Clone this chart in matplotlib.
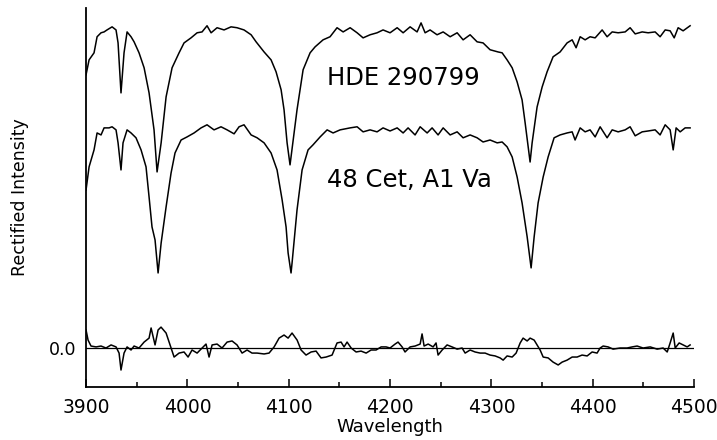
import numpy as np
import matplotlib
matplotlib.use('Agg')
import matplotlib.pyplot as plt
from matplotlib.ticker import MultipleLocator

# HDE 290799, rectified intensity (plotted with an offset)
hde_wave = [3900.0, 3903.0, 3907.9, 3910.9, 3914.8, 3917.8, 3920.7, 3925.7, 3929.6, 3931.6,
            3934.5, 3937.5, 3940.5, 3944.4, 3947.4, 3952.3, 3957.3, 3962.2, 3967.1, 3970.1,
            3974.1, 3979.0, 3984.9, 3991.8, 3996.7, 4003.6, 4009.6, 4014.5, 4019.4, 4023.4,
            4029.3, 4036.2, 4043.1, 4049.0, 4055.9, 4062.9, 4067.8, 4075.7, 4082.6, 4087.5,
            4092.5, 4095.4, 4098.4, 4101.3, 4108.2, 4114.2, 4121.1, 4126.0, 4133.9, 4140.8,
            4147.7, 4153.7, 4160.6, 4167.5, 4173.4, 4180.3, 4187.2, 4193.1, 4200.0, 4207.0,
            4212.9, 4219.8, 4226.7, 4230.6, 4234.6, 4239.5, 4246.4, 4252.4, 4259.3, 4266.2,
            4272.1, 4279.0, 4285.9, 4291.8, 4298.7, 4306.6, 4310.6, 4315.5, 4320.5, 4325.4,
            4330.3, 4333.3, 4336.3, 4338.2, 4340.2, 4345.1, 4350.1, 4355.0, 4360.9, 4367.8,
            4374.7, 4379.7, 4383.6, 4387.6, 4392.5, 4397.4, 4402.4, 4409.3, 4414.2, 4419.2,
            4425.1, 4432.0, 4436.9, 4441.9, 4448.8, 4454.7, 4461.6, 4466.5, 4471.5, 4476.4,
            4480.4, 4484.3, 4489.2, 4496.1]
hde_flux = [0.791, 0.859, 0.891, 0.964, 0.982, 0.986, 0.995, 1.009, 0.995, 0.936,
            0.709, 0.891, 0.986, 0.964, 0.941, 0.891, 0.823, 0.709, 0.541, 0.350,
            0.482, 0.691, 0.823, 0.891, 0.936, 0.959, 0.982, 0.986, 1.014, 0.982,
            1.005, 0.995, 1.009, 1.005, 0.995, 0.973, 0.941, 0.895, 0.859, 0.805,
            0.723, 0.632, 0.482, 0.382, 0.632, 0.814, 0.891, 0.918, 0.950, 0.964,
            1.005, 0.986, 1.005, 0.982, 0.959, 0.973, 0.982, 0.995, 0.982, 1.005,
            0.982, 1.009, 0.986, 1.027, 0.982, 0.995, 0.973, 0.986, 0.964, 0.982,
            0.950, 0.973, 0.941, 0.936, 0.905, 0.895, 0.891, 0.859, 0.823, 0.759,
            0.677, 0.573, 0.464, 0.395, 0.482, 0.645, 0.736, 0.805, 0.873, 0.895,
            0.936, 0.950, 0.914, 0.964, 0.950, 0.964, 0.959, 0.995, 0.964, 0.986,
            0.982, 0.986, 1.005, 0.977, 0.986, 0.982, 0.986, 0.964, 0.995, 0.991,
            0.959, 1.005, 0.991, 1.014]
hde_offset = 0.45

# 48 Cet, A1 Va standard
cet_wave = [3900.0, 3903.0, 3907.9, 3910.9, 3914.8, 3917.8, 3922.7, 3925.7, 3929.6, 3931.6,
            3934.5, 3936.5, 3940.5, 3944.4, 3949.3, 3954.3, 3959.2, 3962.2, 3965.1, 3968.1,
            3971.1, 3974.1, 3979.0, 3983.9, 3987.8, 3993.8, 3999.7, 4006.6, 4013.5, 4019.4,
            4026.3, 4033.2, 4039.2, 4046.1, 4051.0, 4055.9, 4062.9, 4068.8, 4075.7, 4082.6,
            4088.5, 4093.5, 4097.4, 4099.4, 4102.3, 4103.3, 4108.2, 4113.2, 4119.1, 4124.0,
            4131.0, 4137.9, 4143.8, 4150.7, 4160.6, 4167.5, 4173.4, 4180.3, 4187.2, 4193.1,
            4200.0, 4207.0, 4212.9, 4217.8, 4224.7, 4229.7, 4236.6, 4241.5, 4247.4, 4252.4,
            4259.3, 4266.2, 4272.1, 4279.0, 4285.9, 4291.8, 4298.7, 4305.7, 4310.6, 4315.5,
            4320.5, 4325.4, 4330.3, 4335.3, 4339.2, 4342.2, 4346.1, 4351.1, 4356.0, 4361.9,
            4367.8, 4374.7, 4379.7, 4382.6, 4387.6, 4392.5, 4397.4, 4402.4, 4407.3, 4414.2,
            4419.2, 4425.1, 4432.0, 4436.9, 4441.9, 4448.8, 4454.7, 4461.6, 4466.5, 4471.5,
            4476.4, 4479.4, 4482.3, 4486.3, 4491.2, 4496.1]
cet_flux = [0.718, 0.823, 0.900, 0.977, 0.968, 1.000, 1.000, 1.005, 0.991, 0.932,
            0.809, 0.932, 0.991, 0.977, 0.955, 0.900, 0.823, 0.686, 0.550, 0.491,
            0.341, 0.477, 0.641, 0.795, 0.886, 0.945, 0.959, 0.977, 1.000, 1.014,
            0.991, 1.005, 0.991, 0.973, 1.005, 1.014, 0.968, 0.955, 0.932, 0.886,
            0.809, 0.673, 0.550, 0.432, 0.341, 0.386, 0.627, 0.809, 0.900, 0.923,
            0.959, 0.991, 0.977, 0.991, 1.000, 1.005, 0.982, 0.991, 0.982, 1.000,
            0.986, 1.000, 0.977, 1.000, 0.968, 1.005, 0.977, 1.000, 0.968, 1.000,
            0.968, 0.982, 0.955, 0.968, 0.955, 0.936, 0.945, 0.932, 0.936, 0.914,
            0.868, 0.777, 0.659, 0.505, 0.364, 0.505, 0.659, 0.777, 0.868, 0.955,
            0.968, 0.977, 0.982, 0.945, 1.000, 0.982, 0.991, 0.959, 1.005, 0.955,
            0.991, 0.982, 0.991, 1.005, 0.964, 0.982, 0.986, 0.991, 0.968, 1.014,
            0.991, 0.900, 1.000, 0.982, 1.000, 1.000]

# difference spectrum HDE 290799 - 48 Cet
diff_wave = [3900.0, 3902.0, 3904.9, 3909.9, 3914.8, 3919.7, 3924.7, 3929.6, 3932.6, 3934.5,
             3937.5, 3940.5, 3944.4, 3947.4, 3952.3, 3957.3, 3962.2, 3964.2, 3968.1, 3971.1,
             3974.0, 3979.0, 3982.9, 3986.9, 3991.8, 3996.7, 4000.7, 4004.6, 4009.6, 4014.5,
             4018.4, 4021.4, 4024.4, 4029.3, 4034.2, 4039.2, 4044.1, 4049.0, 4054.0, 4058.9,
             4063.8, 4068.8, 4075.7, 4080.6, 4085.6, 4090.5, 4095.4, 4099.4, 4103.3, 4108.3,
             4112.2, 4117.1, 4122.1, 4127.0, 4131.9, 4136.9, 4142.8, 4147.7, 4151.7, 4154.6,
             4157.6, 4161.6, 4166.5, 4171.4, 4176.4, 4181.3, 4186.2, 4191.2, 4196.1, 4200.0,
             4205.0, 4207.9, 4211.9, 4214.8, 4219.8, 4224.7, 4229.7, 4231.6, 4233.6, 4237.6,
             4242.5, 4245.4, 4247.4, 4251.4, 4256.3, 4261.2, 4266.2, 4271.1, 4274.1, 4279.0,
             4283.9, 4288.9, 4293.8, 4298.7, 4303.7, 4308.6, 4311.6, 4315.5, 4320.5, 4324.4,
             4328.4, 4331.3, 4335.3, 4338.2, 4342.2, 4345.1, 4348.1, 4351.1, 4356.0, 4360.9,
             4365.9, 4369.8, 4374.7, 4379.7, 4384.6, 4389.5, 4394.5, 4399.4, 4404.3, 4407.3,
             4410.3, 4415.2, 4420.1, 4427.0, 4433.9, 4438.9, 4443.8, 4449.7, 4456.7, 4463.6,
             4469.5, 4473.5, 4476.4, 4479.4, 4481.4, 4485.3, 4489.2, 4493.2, 4496.1]
diff_flux = [0.082, 0.036, 0.009, 0.005, 0.009, 0.000, 0.014, 0.005, -0.023, -0.100,
             -0.023, 0.005, -0.009, 0.009, 0.000, 0.027, 0.045, 0.091, 0.014, 0.082,
             0.095, 0.068, 0.014, -0.041, -0.023, -0.018, -0.041, -0.009, -0.023, 0.000,
             0.018, -0.041, 0.014, 0.018, 0.000, 0.027, 0.032, 0.014, -0.023, -0.009,
             -0.023, -0.023, -0.027, -0.023, 0.005, 0.045, 0.059, 0.045, 0.068, 0.036,
             -0.009, -0.032, -0.018, -0.014, -0.045, -0.041, -0.032, 0.023, 0.027, 0.005,
             0.027, 0.000, -0.018, -0.014, -0.023, -0.009, -0.009, 0.005, 0.005, 0.000,
             0.018, 0.027, 0.005, -0.018, 0.005, 0.009, 0.018, 0.064, 0.009, 0.018,
             0.005, 0.023, -0.032, -0.009, 0.014, 0.005, -0.005, 0.000, -0.023, -0.009,
             -0.018, -0.023, -0.023, -0.032, -0.036, -0.045, -0.055, -0.036, -0.041, -0.023,
             0.023, 0.045, 0.032, 0.045, 0.036, 0.014, -0.009, -0.041, -0.045, -0.064,
             -0.077, -0.064, -0.055, -0.041, -0.041, -0.032, -0.036, -0.018, -0.023, 0.000,
             0.009, 0.005, -0.005, 0.000, 0.000, 0.005, 0.009, 0.000, 0.005, -0.005,
             0.000, -0.018, 0.023, 0.068, 0.000, 0.023, 0.014, 0.005, 0.014]

xticks = [3900, 4000, 4100, 4200, 4300, 4400, 4500]

fig = plt.figure(figsize=(7.17, 4.40), dpi=100)
ax = fig.add_axes([0.120, 0.1205, 0.848, 0.8615])

ax.plot(hde_wave, np.array(hde_flux) + hde_offset, color='black', lw=1.1)
ax.plot(cet_wave, cet_flux, color='black', lw=1.1)
ax.plot(diff_wave, diff_flux, color='black', lw=1.1)
ax.axhline(0.0, color='black', lw=0.9)

ax.text(4138, 1.195, 'HDE 290799', fontsize=17.5, ha='left', va='baseline')
ax.text(4138, 0.732, '48 Cet, A1 Va', fontsize=17.5, ha='left', va='baseline')

ax.set_xlim(3900, 4500)
ax.set_ylim(-0.177, 1.545)
ax.set_xticks(xticks)
ax.xaxis.set_minor_locator(MultipleLocator(50))
ax.tick_params(axis='x', which='major', direction='in', length=6, width=1.1,
               labelsize=13.5, pad=8)
ax.tick_params(axis='x', which='minor', direction='in', length=3.5, width=1.1)
ax.set_yticks([0.0])
ax.set_yticklabels(['0.0'])
ax.tick_params(axis='y', length=0, labelsize=12.5, pad=7)

for s in ['top', 'right']:
    ax.spines[s].set_visible(False)
ax.spines['left'].set_linewidth(1.3)
ax.spines['bottom'].set_linewidth(1.3)

ax.set_xlabel('Wavelength', fontsize=13, labelpad=1)
ax.set_ylabel('Rectified Intensity', fontsize=12.5, labelpad=14)

fig.savefig('out.png', dpi=100)
